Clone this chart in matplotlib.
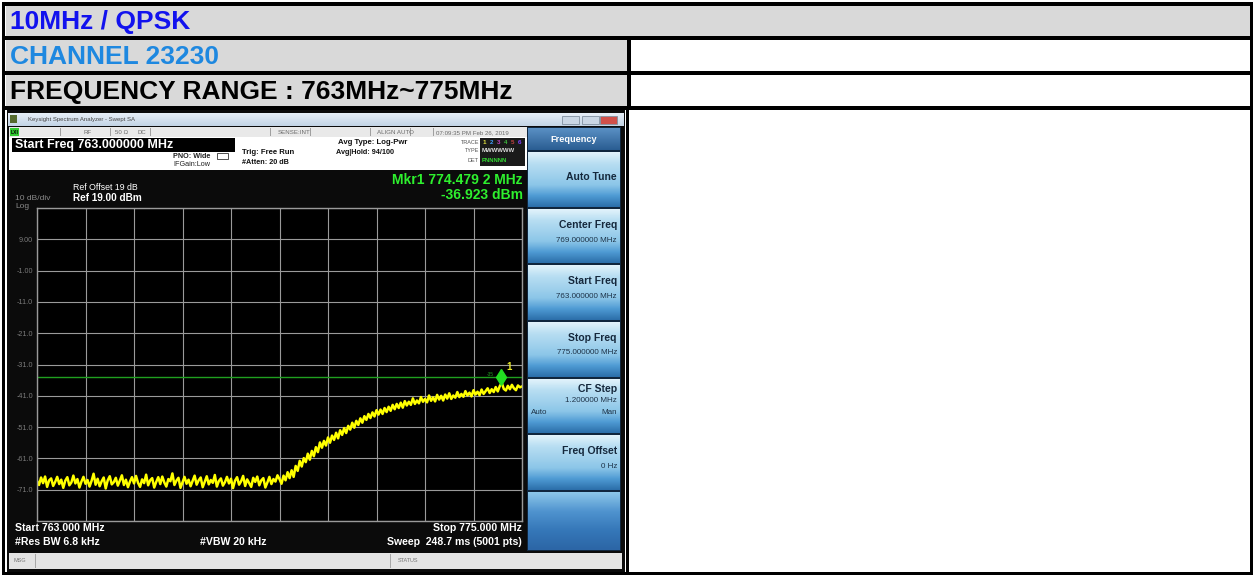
import numpy as np
import matplotlib.pyplot as plt
from matplotlib.patches import Rectangle
from matplotlib.colors import LinearSegmentedColormap
from matplotlib.transforms import offset_copy

plt.rcParams['font.family'] = ['Liberation Sans', 'DejaVu Sans']

# table header rows
title_row = '10MHz / QPSK'
channel_row = 'CHANNEL 23230'
range_row = 'FREQUENCY RANGE : 763MHz~775MHz'

# analyser settings
start_mhz = 763.0
stop_mhz = 775.0
ref_dbm = 19.0
db_per_div = 10
display_line = -35.0
mkr_mhz = 774.4792
mkr_dbm = -36.923
ylabels = ['-71.0', '-61.0', '-51.0', '-41.0', '-31.0', '-21.0', '-11.0', '-1.00', '9.00']

# trace, one value every 0.05 MHz
trace_dbm = [
    -68.2, -69.5, -67.1, -68.9, -66.8, -70.1, -68.0, -67.4, -69.8, -68.5, -66.9, -69.2, -67.8, -70.4, -68.1, -67.0, -69.6, -68.7, -66.5, -69.0,
    -67.6, -70.3, -68.4, -66.9, -69.1, -67.9, -70.0, -68.2, -65.9, -69.4, -67.5, -69.9, -68.3, -67.1, -70.6, -68.0, -66.7, -69.3, -68.6, -67.2,
    -69.7, -68.1, -66.4, -69.5, -67.8, -70.2, -68.4, -67.0, -69.0, -66.6, -68.8, -70.1, -67.7, -68.9, -66.2, -69.6, -68.0, -67.3, -70.3, -68.5,
    -67.0, -69.2, -66.8, -68.7, -70.0, -67.6, -68.3, -65.8, -69.5, -68.1, -67.2, -70.4, -68.6, -66.9, -69.1, -67.8, -69.9, -68.2, -66.5, -69.4,
    -68.0, -67.1, -70.2, -68.5, -66.7, -69.3, -67.9, -68.8, -66.3, -70.0, -68.2, -67.4, -69.7, -68.6, -66.9, -69.0, -67.5, -70.5, -68.1, -67.0,
    -69.4, -68.3, -66.6, -69.8, -67.7, -68.9, -70.1, -67.2, -68.5, -66.8, -69.6, -68.0, -67.3, -70.3, -68.7, -66.9, -69.2, -67.6, -68.4, -66.4,
    -67.6, -69.1, -66.5, -68.0, -65.4, -67.3, -64.8, -66.9, -63.4, -65.0, -61.8, -63.6, -60.9, -62.2, -59.5, -61.4, -58.6, -60.3, -57.4, -59.0,
    -55.9, -57.6, -55.4, -56.9, -54.3, -56.0, -53.7, -55.1, -52.8, -54.6, -52.0, -53.5, -51.3, -52.9, -50.6, -51.8, -49.6, -51.2, -49.0, -50.3,
    -48.2, -49.6, -47.5, -48.7, -46.8, -48.1, -46.3, -47.6, -45.6, -47.0, -45.4, -46.8, -44.9, -46.2, -44.5, -45.8, -43.9, -45.3, -43.6, -44.9,
    -43.2, -44.8, -42.7, -44.1, -42.9, -43.9, -41.8, -43.6, -42.5, -43.4, -41.4, -42.9, -42.0, -43.1, -40.9, -42.6, -41.5, -42.8, -40.7, -42.2,
    -41.0, -42.5, -40.6, -41.9, -40.2, -42.0, -40.9, -41.6, -39.8, -41.4, -40.4, -41.3, -39.5, -40.9, -40.0, -41.2, -39.2, -40.6, -39.7, -40.8,
    -39.0, -40.4, -39.5, -38.6, -40.1, -38.9, -39.8, -38.2, -39.6, -37.9, -36.9, -38.8, -39.3, -37.8, -38.9, -37.5, -38.6, -39.2, -37.7, -38.3,
    -38.0,
]

softkeys = ['Auto Tune', 'Center Freq', 'Start Freq', 'Stop Freq', 'CF Step', 'Freq Offset', '']
softkey_vals = ['', '769.000000 MHz', '763.000000 MHz', '775.000000 MHz', '1.200000 MHz', '0 Hz', '']

W, H = 1253, 575
fig = plt.figure(figsize=(W / 100, H / 100), dpi=100)
bg = fig.add_axes([0, 0, 1, 1])
bg.axis('off')


def box(x0, y0, x1, y1, c, **kw):
    bg.add_patch(Rectangle((x0, y0), x1 - x0, y1 - y0, facecolor=c, lw=kw.pop('lw', 0), **kw))


def txt(x, y, s, size, c='black', ha='left', bold=False, **kw):
    bg.text(x, y, s, fontsize=size, color=c, ha=ha, va='center',
            fontweight='bold' if bold else 'normal', **kw)


def grad(x0, y0, x1, y1, colors):
    cm = LinearSegmentedColormap.from_list('k', colors)
    bg.imshow(np.linspace(0, 1, 64).reshape(-1, 1), cmap=cm, aspect='auto', zorder=1,
              extent=(x0, x1, y1, y0), origin='upper', interpolation='bilinear')


# --- table ---
box(6, 6, 1250, 36, '#d9d9d9')
box(6, 40, 627, 71, '#d9d9d9')
box(6, 75, 627, 106, '#d9d9d9')
for y0, y1 in [(2, 6), (36, 40), (71, 75), (106, 110), (572, 575)]:
    box(2, y0, 1253, y1, 'black')
box(2, 2, 5, 575, 'black')
box(1250, 2, 1253, 575, 'black')
box(627, 40, 631, 110, 'black')
box(626, 110, 629, 572, 'black')

txt(10, 22, title_row, 19, '#1212ee', bold=True)
txt(10, 57, channel_row, 19, '#1e88e0', bold=True)
txt(10, 92, range_row, 19, 'black', bold=True)

# --- analyser screenshot ---
box(7, 110, 625, 572, '#0b0b0b')
grad(8, 113, 624, 126, ['#e8f0f8', '#c3d4e6'])
box(10, 115, 17, 123, '#556b2f')
txt(28, 119.5, 'Keysight Spectrum Analyzer - Swept SA', 4.3, '#444444')
for x0, c in [(562, '#c9d6e4'), (582, '#c9d6e4'), (600, '#d0504a')]:
    box(x0, 116, x0 + 17, 124, c, edgecolor='#8090a0', lw=0.6)

box(9, 127, 527, 137, '#e9e9e9')
box(10, 128, 19, 136, '#33cc33')
txt(11, 132, 'LXI', 3.6, 'black', bold=True)
for xs in [60, 110, 150, 270, 310, 370, 410, 433]:
    box(xs, 128, xs + 0.8, 136, '#a0a0a0')
for x, s in [(84, 'RF'), (115, '50 Ω'), (138, 'DC'), (278, 'SENSE:INT'), (377, 'ALIGN AUTO'), (436, '07:09:35 PM Feb 26, 2019')]:
    txt(x, 132.5, s, 4.4, '#6a6a6a')

box(9, 137, 527, 170, 'white')
box(12, 138, 235, 152, 'black')
txt(15, 145, 'Start Freq 763.000000 MHz', 9, 'white', bold=True)
txt(173, 156, 'PNO: Wide', 5.2, '#222222', bold=True)
txt(173, 165, 'IFGain:Low', 5.2, '#222222')
box(217, 153, 228, 159, 'white', edgecolor='#333333', lw=0.6)
txt(242, 153, 'Trig: Free Run', 5.6, '#111111', bold=True)
txt(242, 163, '#Atten: 20 dB', 5.2, '#111111', bold=True)
txt(338, 143, 'Avg Type: Log-Pwr', 5.6, '#111111', bold=True)
txt(336, 153, 'Avg|Hold: 94/100', 5.2, '#111111', bold=True)
for y, s in [(142, 'TRACE'), (151, 'TYPE'), (160, 'DET')]:
    txt(479, y, s, 4.0, '#555555', ha='right')
box(480, 138, 525, 166, '#1a1a1a')
for i, c in enumerate(['#e0e040', '#40a0ff', '#c040c0', '#40c040', '#c04040', '#8040ff']):
    txt(483 + 7 * i, 142, str(i + 1), 4.5, c, bold=True)
txt(482, 151, 'MWWWWW', 4.3, '#dddddd', bold=True)
txt(482, 160, 'PNNNNN', 4.3, '#33dd33', bold=True)

txt(73, 187, 'Ref Offset 19 dB', 6.3, 'white')
txt(73, 198, 'Ref 19.00 dBm', 7.2, 'white', bold=True)
txt(15, 199, '10 dB/div', 6.0, '#8a8a8a')
txt(15, 206, 'Log', 6.0, '#8a8a8a')
txt(523, 180, 'Mkr1 774.479 2 MHz', 10, '#2ef02e', ha='right', bold=True)
txt(523, 195, '-36.923 dBm', 10, '#2ef02e', ha='right', bold=True)

txt(15, 528, 'Start 763.000 MHz', 7.6, 'white', bold=True)
txt(15, 542, '#Res BW 6.8 kHz', 7.6, 'white', bold=True)
txt(200, 542, '#VBW 20 kHz', 7.6, 'white', bold=True)
txt(522, 528, 'Stop 775.000 MHz', 7.6, 'white', ha='right', bold=True)
txt(522, 542, 'Sweep  248.7 ms (5001 pts)', 7.6, 'white', ha='right', bold=True)

box(9, 553, 622, 569, '#e4e4e4')
box(35, 554, 36, 568, '#a8a8a8')
box(390, 554, 391, 568, '#a8a8a8')
txt(13, 561, 'MSG', 4.0, '#777777')
txt(398, 561, 'STATUS', 4.0, '#777777')

# softkey panel
box(527, 127, 621, 551, '#10263d')
grad(528, 128, 620, 150, ['#5a90c4', '#2a5d92'])
txt(574, 139, 'Frequency', 6.6, 'white', ha='center', bold=True)
keys_y = [(152, 207), (209, 263), (265, 320), (322, 377), (379, 433), (435, 490), (492, 550)]
key_cols = ['#e2f3fb', '#b8def2', '#a2d2ed', '#8cc6e8', '#4f9bd4', '#2c6faa']
for i, (y0, y1) in enumerate(keys_y):
    cols = key_cols if softkeys[i] else ['#8cc6e8', '#4f93cf', '#3577b8', '#2c66a6']
    grad(528, y0, 620, y1, cols)
    name = softkeys[i]
    if name == 'Auto Tune':
        txt(617, (y0 + y1) / 2 - 3, name, 7.5, '#15283c', ha='right', bold=True)
    elif name == 'CF Step':
        txt(617, y0 + 10, name, 7.5, '#15283c', ha='right', bold=True)
        txt(617, y0 + 22, softkey_vals[i], 5.8, '#1d3247', ha='right')
        txt(531, y0 + 33, 'Auto', 5.8, '#1d3247')
        box(531, y0 + 37.5, 549, y0 + 38.2, '#1d3247')
        txt(617, y0 + 33, 'Man', 5.8, '#1d3247', ha='right')
    elif name:
        txt(617, y0 + 16, name, 7.5, '#15283c', ha='right', bold=True)
        txt(617, y0 + 31, softkey_vals[i], 5.8, '#1d3247', ha='right')

bg.set_xlim(0, W)
bg.set_ylim(H, 0)

# --- spectrum display ---
ax = fig.add_axes([37 / W, 1 - 521 / H, 485 / W, 313 / H])
ax.set_facecolor('black')
freqs = np.linspace(start_mhz, stop_mhz, len(trace_dbm))
ax.set_xlim(start_mhz, stop_mhz)
ax.set_ylim(ref_dbm - 10 * db_per_div, ref_dbm)
ax.set_xticks(np.linspace(start_mhz, stop_mhz, 11))
ax.set_yticks(np.arange(ref_dbm - 10 * db_per_div, ref_dbm + 1, db_per_div))
ax.set_yticklabels([''] + ylabels + [''])
ax.tick_params(length=0, labelbottom=False, labelsize=5.2, labelcolor='#7a7a7a', pad=3)
ax.grid(color='#9a9a9a', lw=0.8)
for s in ax.spines.values():
    s.set_color('#9a9a9a')
    s.set_linewidth(1)
ax.axhline(display_line, color='#1f9f1f', lw=1)
ax.plot(freqs, trace_dbm, color='#ffff00', lw=1.8)

mk = offset_copy(ax.transData, fig=fig, x=0, y=6, units='dots')
ax.plot([mkr_mhz], [mkr_dbm], marker='d', ms=8, color='#22dd22', transform=mk, clip_on=False)
ax.annotate('1', (mkr_mhz, mkr_dbm), xytext=(5, 13), textcoords='offset pixels',
            color='#e6e62a', fontsize=7, fontweight='bold')
ax.annotate('-35', (mkr_mhz, display_line), xytext=(-14, 1), textcoords='offset pixels',
            color='#1f9f1f', fontsize=3.5)

fig.savefig('out.png', dpi=100)
